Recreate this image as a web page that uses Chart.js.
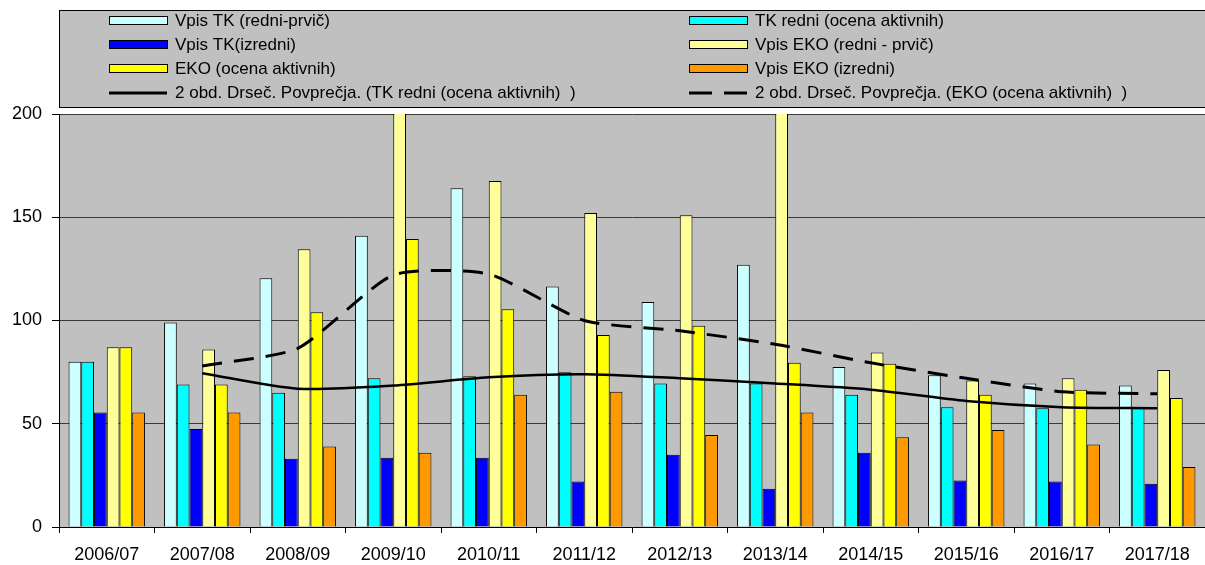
<!DOCTYPE html>
<html>
<head>
<meta charset="utf-8">
<script src="https://cdn.jsdelivr.net/npm/chart.js"></script>
<style>
  body { margin: 0; background: #fff; }
  #wrap { width: 1205px; height: 565px; }
</style>
</head>
<body>
<div id="wrap"><canvas id="vpisChart" width="1205" height="565"></canvas></div>
<script>
const leta = ['2006/07', '2007/08', '2008/09', '2009/10', '2010/11', '2011/12',
              '2012/13', '2013/14', '2014/15', '2015/16', '2016/17', '2017/18'];

const vpisTkRedni   = [80, 99, 120.5, 141, 164, 116.5, 109, 127, 77.5, 73.5, 69.5, 68.5];
const tkRedniAktivni = [80, 69, 65, 72, 73, 75, 69.5, 69.5, 64, 58, 57.5, 57.5];
const vpisTkIzredni = [55.5, 47.5, 33, 33.5, 33.5, 22, 35, 18.5, 36, 22.5, 22, 21];
const vpisEkoRedni  = [87, 86, 134.5, 230, 167.5, 152, 151, 240, 84.5, 71, 72, 76];
const ekoAktivni    = [87, 69, 104, 139.5, 105.5, 93, 97.5, 79.5, 79, 64, 66.5, 62.5];
const vpisEkoIzredni = [55.5, 55.5, 39, 36, 64, 65.5, 44.5, 55.5, 43.5, 47, 40, 29];

// drseča povprečja, odčitana s slike
const povprTk  = [null, 74.5, 67, 68.5, 72.5, 74, 72, 69.5, 66.5, 61, 58, 57.5];
const povprEko = [null, 78, 86.5, 122, 122.5, 100, 95, 88.5, 79.5, 72, 65.5, 64.5];

const yTicks = [0, 50, 100, 150, 200];

const FONT = 'Liberation Sans, Arial, sans-serif';

function stolpec(label, data, color) {
  return {
    type: 'bar',
    label: label,
    data: data,
    backgroundColor: color,
    borderColor: '#000',
    borderWidth: 1,
    order: 1
  };
}

// ozadje risalne površine in legenda v sivem okvirju
const ozadjeLegenda = {
  id: 'ozadjeLegenda',
  beforeDraw(chart) {
    const ctx = chart.ctx;
    const a = chart.chartArea;
    ctx.save();
    ctx.fillStyle = '#fff';
    ctx.fillRect(0, 0, chart.width, chart.height);
    ctx.fillStyle = '#C0C0C0';
    ctx.fillRect(a.left, a.top, a.right - a.left, a.bottom - a.top);
    ctx.restore();
  },
  afterDraw(chart) {
    const ctx = chart.ctx;
    ctx.save();
    ctx.fillStyle = '#fff';
    ctx.fillRect(59, 0, chart.width - 59, 111);
    ctx.fillStyle = '#C0C0C0';
    ctx.fillRect(59.5, 10.5, chart.width, 97);
    ctx.strokeStyle = '#000';
    ctx.lineWidth = 1;
    ctx.strokeRect(59.5, 10.5, chart.width, 97);

    ctx.font = '17px ' + FONT;
    ctx.textBaseline = 'middle';
    chart.data.datasets.forEach((ds, i) => {
      const x = (i % 2) ? 689 : 109;
      const y = 21 + Math.floor(i / 2) * 24;
      if (ds.type === 'bar') {
        ctx.fillStyle = ds.backgroundColor;
        ctx.fillRect(x + 0.5, y - 4.5, 58, 8);
        ctx.strokeStyle = '#000';
        ctx.lineWidth = 1;
        ctx.setLineDash([]);
        ctx.strokeRect(x + 0.5, y - 4.5, 58, 8);
      } else {
        ctx.strokeStyle = '#000';
        ctx.lineWidth = 3;
        ctx.setLineDash(ds.borderDash && ds.borderDash.length ? [23, 12] : []);
        ctx.beginPath();
        ctx.moveTo(x, y);
        ctx.lineTo(x + 58, y);
        ctx.stroke();
        ctx.setLineDash([]);
      }
      ctx.fillStyle = '#000';
      ctx.fillText(ds.label, x + 66, y);
    });
    ctx.restore();
  }
};

const ctx = document.getElementById('vpisChart').getContext('2d');
new Chart(ctx, {
  type: 'bar',
  data: {
    labels: leta,
    datasets: [
      stolpec('Vpis TK (redni-prvič)', vpisTkRedni, '#CCFFFF'),
      stolpec('TK redni (ocena aktivnih)', tkRedniAktivni, '#00FFFF'),
      stolpec('Vpis TK(izredni)', vpisTkIzredni, '#0000FF'),
      stolpec('Vpis EKO (redni - prvič)', vpisEkoRedni, '#FFFF99'),
      stolpec('EKO (ocena aktivnih)', ekoAktivni, '#FFFF00'),
      stolpec('Vpis EKO (izredni)', vpisEkoIzredni, '#FF9900'),
      {
        type: 'line',
        label: '2 obd. Drseč. Povprečja. (TK redni (ocena aktivnih)  )',
        data: povprTk,
        borderColor: '#000',
        borderWidth: 2.5,
        pointRadius: 0,
        tension: 0.25,
        spanGaps: true,
        order: 0
      },
      {
        type: 'line',
        label: '2 obd. Drseč. Povprečja. (EKO (ocena aktivnih)  )',
        data: povprEko,
        borderColor: '#000',
        borderWidth: 3,
        borderDash: [20, 12],
        pointRadius: 0,
        tension: 0.2,
        spanGaps: true,
        order: 0
      }
    ]
  },
  options: {
    responsive: false,
    animation: false,
    layout: { padding: { top: 114, left: 0, right: 0, bottom: 0 } },
    datasets: {
      bar: { categoryPercentage: 0.8, barPercentage: 1.0 }
    },
    plugins: {
      legend: { display: false },
      tooltip: { enabled: false }
    },
    scales: {
      x: {
        grid: {
          offset: true,
          drawOnChartArea: false,
          tickLength: 6,
          tickColor: '#000'
        },
        border: { color: '#000', width: 1 },
        ticks: {
          color: '#000',
          padding: 11,
          maxRotation: 0,
          font: { family: FONT, size: 18 }
        },
        afterFit(scale) { scale.height = 38; }
      },
      y: {
        min: 0,
        max: 200,
        afterBuildTicks(scale) { scale.ticks = yTicks.map(v => ({ value: v })); },
        grid: {
          color: '#3a3a3a',
          lineWidth: 1,
          tickLength: 7,
          tickColor: '#000'
        },
        border: { color: '#000', width: 1 },
        ticks: {
          color: '#000',
          padding: 10,
          font: { family: FONT, size: 18 }
        },
        afterFit(scale) { scale.width = 59; }
      }
    }
  },
  plugins: [ozadjeLegenda]
});
</script>
</body>
</html>
